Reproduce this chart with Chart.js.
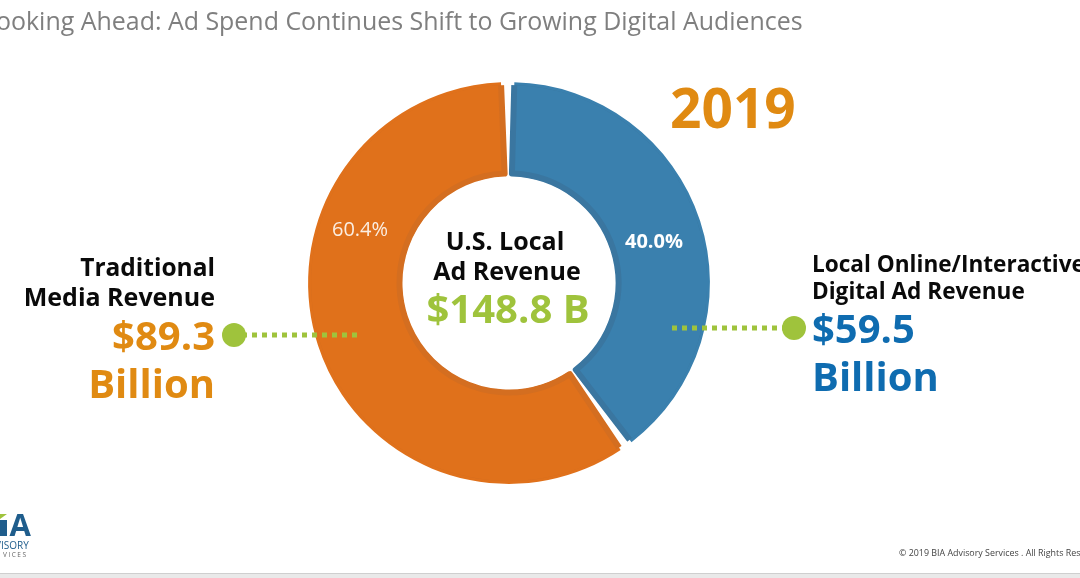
<!DOCTYPE html>
<html>
<head>
<meta charset="utf-8">
<style>
  html, body { margin: 0; padding: 0; background: #fff; overflow: hidden; }
  canvas { display: block; }
</style>
<script src="https://cdn.jsdelivr.net/npm/chart.js@4"></script>
</head>
<body>
<canvas id="donut" width="1080" height="578"></canvas>
<script>
const categories = ['Local Online/Interactive Digital Ad Revenue', 'Traditional Media Revenue'];
const revenue = [59.5, 89.3];
const shareLabels = ['40.0%', '60.4%'];
const sliceColors = ['#3a80ae', '#e0711b'];
const sliceBorders = ['#3a76a0', '#d46e20'];

const FONT = '"Open Sans"';
const ORANGE = '#e08a12';
const BLUE = '#0f6cb0';
const GREEN = '#9fc33c';
const BLACK = '#0a0a0a';

function text(ctx, str, x, y, font, color, align) {
  ctx.font = font + ' ' + FONT;
  ctx.fillStyle = color;
  ctx.textAlign = align || 'left';
  ctx.textBaseline = 'alphabetic';
  ctx.fillText(str, x, y);
}

function connector(ctx, x1, x2, y, dotX) {
  ctx.strokeStyle = GREEN;
  ctx.lineWidth = 5;
  ctx.setLineDash([5, 5]);
  ctx.beginPath();
  ctx.moveTo(x1, y);
  ctx.lineTo(x2, y);
  ctx.stroke();
  ctx.setLineDash([]);
  ctx.fillStyle = GREEN;
  ctx.beginPath();
  ctx.arc(dotX, y, 12, 0, Math.PI * 2);
  ctx.fill();
}

const annotations = {
  id: 'annotations',
  afterDatasetsDraw(chart) {
    const { ctx } = chart;
    ctx.save();

    text(ctx, 'Looking Ahead: Ad Spend Continues Shift to Growing Digital Audiences', -17, 30, '24.95px', '#7f7f7f');
    text(ctx, '2019', 670, 128, 'bold 55px', ORANGE);

    text(ctx, shareLabels[0], 654, 248, 'bold 20px', '#fff', 'center');
    text(ctx, shareLabels[1], 360, 236, '20px', '#fbeee2', 'center');

    text(ctx, 'U.S. Local', 505, 250, 'bold 25px', BLACK, 'center');
    text(ctx, 'Ad Revenue', 507, 280, 'bold 25px', BLACK, 'center');
    text(ctx, '$148.8 B', 508, 323, 'bold 40px', GREEN, 'center');

    connector(ctx, 357, 238, 335, 234);
    text(ctx, 'Traditional', 215, 276, 'bold 24.5px', BLACK, 'right');
    text(ctx, 'Media Revenue', 215, 306, 'bold 25px', BLACK, 'right');
    text(ctx, '$89.3', 215, 350, 'bold 40px', ORANGE, 'right');
    text(ctx, 'Billion', 215, 398, 'bold 40px', ORANGE, 'right');

    connector(ctx, 672, 785, 328, 794);
    text(ctx, 'Local Online/Interactive', 812, 272, 'bold 22.6px', BLACK);
    text(ctx, 'Digital Ad Revenue', 812, 299, 'bold 22.6px', BLACK);
    text(ctx, '$59.5', 812, 343, 'bold 40px', BLUE);
    text(ctx, 'Billion', 812, 391, 'bold 40px', BLUE);

    // logo, cut off by the left edge like the source slide
    ctx.fillStyle = GREEN;
    ctx.beginPath();
    ctx.moveTo(0, 514);
    ctx.lineTo(7, 514);
    ctx.lineTo(0, 519);
    ctx.closePath();
    ctx.fill();
    ctx.fillStyle = '#1f5d8c';
    ctx.fillRect(0, 520, 7, 16);
    text(ctx, 'A', 9.5, 536, 'bold 31px', '#1f5d8c');
    text(ctx, 'VISORY', -5, 549, '10px', '#1f5d8c');
    ctx.letterSpacing = '1.5px';
    text(ctx, 'VICES', 3, 557, '6.5px', '#666');
    ctx.letterSpacing = '0px';

    text(ctx, '\u00a9 2019 BIA Advisory Services . All Rights Reserved', 899, 556, '8.9px', '#444');

    ctx.fillStyle = '#e9e9e9';
    ctx.fillRect(0, 574, 1080, 4);
    ctx.fillStyle = '#cfcfcf';
    ctx.fillRect(0, 573, 1080, 1);
    ctx.restore();
  }
};

new Chart(document.getElementById('donut'), {
  type: 'doughnut',
  data: {
    labels: categories,
    datasets: [{
      data: revenue,
      backgroundColor: sliceColors,
      borderColor: sliceBorders,
      borderWidth: 3,
      borderAlign: 'inner',
      spacing: 6.5
    }]
  },
  options: {
    responsive: false,
    animation: false,
    radius: 198,
    cutout: '53.5%',
    layout: { padding: { left: 0, right: 62, top: 0, bottom: 12 } },
    plugins: { legend: { display: false }, tooltip: { enabled: false } }
  },
  plugins: [annotations]
});
</script>
</body>
</html>
